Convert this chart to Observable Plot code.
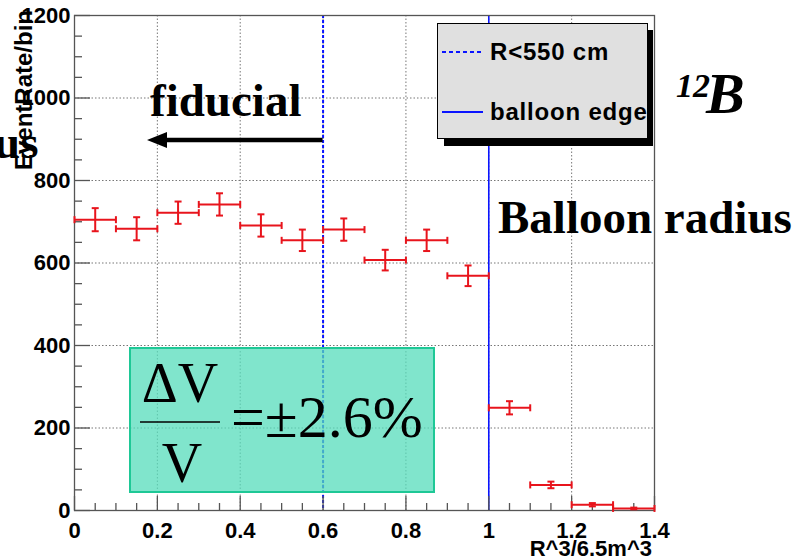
<!DOCTYPE html>
<html>
<head>
<meta charset="utf-8">
<script src="https://cdn.jsdelivr.net/npm/d3@7"></script>
<script src="https://cdn.jsdelivr.net/npm/@observablehq/plot@0.6"></script>
<style>
  html, body { margin: 0; padding: 0; background: #fff; }
  #chart svg { display: block; }
</style>
</head>
<body>
<div id="chart"></div>
<script>
// 12B event rate per volume bin, x = R^3 / 6.5 m^3
const binCenters = [0.05, 0.15, 0.25, 0.35, 0.45, 0.55, 0.65, 0.75, 0.85, 0.95, 1.05, 1.15, 1.25, 1.35];
const eventRates = [705, 683, 722, 742, 691, 655, 681, 607, 655, 569, 249, 62, 14, 5];
const rateErrors = [28, 28, 27, 27, 27, 26, 27, 25, 26, 25, 16, 8, 4, 2];
const binWidth = 0.1;

// reference lines
const fiducialCut = [0.6];   // R < 550 cm
const balloonEdge = [1.0];

// axes
const xMajorTicks = [0, 0.2, 0.4, 0.6, 0.8, 1, 1.2, 1.4];
const yMajorTicks = [0, 200, 400, 600, 800, 1000, 1200];
const xGridLines = [0.2, 0.4, 0.6, 0.8, 1, 1.2];
const yGridLines = [200, 400, 600, 800, 1000];
const xMinorTicks = d3.range(0, 1.4001, 0.05).filter(v => Math.abs(v * 5 - Math.round(v * 5)) > 1e-6);
const yMinorTicks = d3.range(0, 1201, 50).filter(v => v % 200 !== 0);

const points = binCenters.map((x, i) => ({x, y: eventRates[i], e: rateErrors[i]}));

const W = 802, H = 560;
const mL = 74, mR = 148, mT = 15, mB = 50;
const frameW = W - mL - mR, frameH = H - mT - mB;

const red = "#e8141c";
const blue = "#0a14ff";
const axisGray = "#555";

// short line symbols for the error bar caps
const hCap = {draw(ctx, size) { const h = Math.sqrt(size / Math.PI); ctx.moveTo(-h, 0); ctx.lineTo(h, 0); }};
const vCap = {draw(ctx, size) { const h = Math.sqrt(size / Math.PI); ctx.moveTo(0, -h); ctx.lineTo(0, h); }};

const chart = Plot.plot({
  width: W,
  height: H,
  marginLeft: mL,
  marginRight: mR,
  marginTop: mT,
  marginBottom: mB,
  style: {fontFamily: "'Liberation Sans', Arial, sans-serif", fontWeight: "bold", fontSize: "22px", background: "#fff", color: "#000"},
  x: {domain: [0, 1.4]},
  y: {domain: [0, 1200]},
  marks: [
    Plot.gridX(xGridLines, {stroke: "#777", strokeOpacity: 1, strokeWidth: 1, strokeDasharray: "1.5,2"}),
    Plot.gridY(yGridLines, {stroke: "#777", strokeOpacity: 1, strokeWidth: 1, strokeDasharray: "1.5,2"}),
    Plot.ruleX(fiducialCut, {stroke: blue, strokeWidth: 2, strokeDasharray: "3,2"}),
    Plot.ruleX(balloonEdge, {stroke: blue, strokeWidth: 1.6}),
    // ticks drawn inside the frame
    Plot.ruleX(xMajorTicks, {stroke: axisGray, strokeWidth: 1.3, insetTop: frameH - 14}),
    Plot.ruleX(xMinorTicks, {stroke: axisGray, strokeWidth: 1.3, insetTop: frameH - 7}),
    Plot.ruleY(yMajorTicks, {stroke: axisGray, strokeWidth: 1.3, insetRight: frameW - 16}),
    Plot.ruleY(yMinorTicks, {stroke: axisGray, strokeWidth: 1.3, insetRight: frameW - 8}),
    Plot.axisX(xMajorTicks, {tickSize: 0, tickPadding: 12, tickFormat: d => String(d), label: null, fontSize: 22}),
    Plot.axisY(yMajorTicks, {tickSize: 0, tickPadding: 4, tickFormat: d => String(d), label: null, fontSize: 22}),
    Plot.frame({stroke: axisGray, strokeWidth: 1.3}),
    // error bars
    Plot.link(points, {x1: d => d.x - binWidth / 2, x2: d => d.x + binWidth / 2, y1: "y", y2: "y", stroke: red, strokeWidth: 2}),
    Plot.link(points, {x1: "x", x2: "x", y1: d => d.y - d.e, y2: d => d.y + d.e, stroke: red, strokeWidth: 2}),
    Plot.dot(points, {x: "x", y: d => d.y + d.e, symbol: hCap, r: 3.5, stroke: red, strokeWidth: 2, fill: "none"}),
    Plot.dot(points, {x: "x", y: d => d.y - d.e, symbol: hCap, r: 3.5, stroke: red, strokeWidth: 2, fill: "none"}),
    Plot.dot(points, {x: d => d.x - binWidth / 2, y: "y", symbol: vCap, r: 3.5, stroke: red, strokeWidth: 2, fill: "none"}),
    Plot.dot(points, {x: d => d.x + binWidth / 2, y: "y", symbol: vCap, r: 3.5, stroke: red, strokeWidth: 2, fill: "none"})
  ]
});

document.getElementById("chart").appendChild(chart);

const X = chart.scale("x");
const sans = "'Liberation Sans', Arial, sans-serif";
const serif = "'Liberation Serif', 'Times New Roman', serif";

// annotation layer with its own text defaults
const svg = d3.select(chart).append("g")
  .attr("text-anchor", "start")
  .attr("font-weight", "normal")
  .attr("font-style", "normal");

// axis titles
svg.append("text")
  .attr("transform", "translate(32,10) rotate(-90)")
  .attr("text-anchor", "end")
  .attr("font-family", sans).attr("font-weight", "bold").attr("font-size", 24)
  .text("EventRate/bin");
svg.append("text")
  .attr("x", 652).attr("y", 556)
  .attr("text-anchor", "end")
  .attr("font-family", sans).attr("font-weight", "bold").attr("font-size", 22)
  .text("R^3/6.5m^3");

// fiducial annotation and arrow
svg.append("text")
  .attr("x", 150).attr("y", 116)
  .attr("font-family", serif).attr("font-weight", "bold").attr("font-size", 47)
  .text("fiducial");
const arrowStart = X.apply(fiducialCut[0]);
svg.append("line")
  .attr("x1", arrowStart).attr("x2", 160).attr("y1", 140).attr("y2", 140)
  .attr("stroke", "#000").attr("stroke-width", 4.5);
svg.append("path")
  .attr("d", "M147,140 L167,132 L167,148 Z")
  .attr("fill", "#000");

svg.append("text")
  .attr("x", -6).attr("y", 158)
  .attr("font-family", serif).attr("font-weight", "bold").attr("font-size", 47)
  .text("us");

svg.append("text")
  .attr("x", 498).attr("y", 233)
  .attr("font-family", serif).attr("font-weight", "bold").attr("font-size", 47)
  .text("Balloon radius");

// isotope label
const iso = svg.append("text")
  .attr("font-family", serif).attr("font-weight", "bold").attr("font-style", "italic");
iso.append("tspan").attr("x", 676).attr("y", 97).attr("font-size", 34).text("12");
iso.append("tspan").attr("x", 706).attr("y", 113).attr("font-size", 58).text("B");

// legend
const lg = svg.append("g");
lg.append("rect").attr("x", 444).attr("y", 30).attr("width", 209).attr("height", 116).attr("fill", "#000");
lg.append("rect").attr("x", 437.5).attr("y", 23.5).attr("width", 210).attr("height", 115)
  .attr("fill", "#e0e0e0").attr("stroke", "#000").attr("stroke-width", 1);
lg.append("line").attr("x1", 442).attr("x2", 483).attr("y1", 52).attr("y2", 52)
  .attr("stroke", blue).attr("stroke-width", 2).attr("stroke-dasharray", "4,3");
lg.append("text").attr("x", 490).attr("y", 60).attr("letter-spacing", 0.8)
  .attr("font-family", sans).attr("font-weight", "bold").attr("font-size", 24).text("R<550 cm");
lg.append("line").attr("x1", 442).attr("x2", 483).attr("y1", 112).attr("y2", 112)
  .attr("stroke", blue).attr("stroke-width", 2);
lg.append("text").attr("x", 490).attr("y", 120).attr("letter-spacing", 0.8)
  .attr("font-family", sans).attr("font-weight", "bold").attr("font-size", 24).text("balloon edge");

// volume uncertainty box
const box = svg.append("g");
box.append("rect").attr("x", 130).attr("y", 348).attr("width", 304).attr("height", 144)
  .attr("fill", "#56dcbb").attr("fill-opacity", 0.75)
  .attr("stroke", "#1ec896").attr("stroke-width", 2);
box.append("text").attr("x", 180).attr("y", 402).attr("text-anchor", "middle")
  .attr("font-family", serif).attr("font-size", 56).text("ΔV");
box.append("line").attr("x1", 140).attr("x2", 220).attr("y1", 422).attr("y2", 422)
  .attr("stroke", "#000").attr("stroke-width", 1.5);
box.append("text").attr("x", 182).attr("y", 482).attr("text-anchor", "middle")
  .attr("font-family", serif).attr("font-size", 56).text("V");
box.append("text").attr("x", 231).attr("y", 437)
  .attr("font-family", serif).attr("font-size", 60).text("=±2.6%");
</script>
</body>
</html>
